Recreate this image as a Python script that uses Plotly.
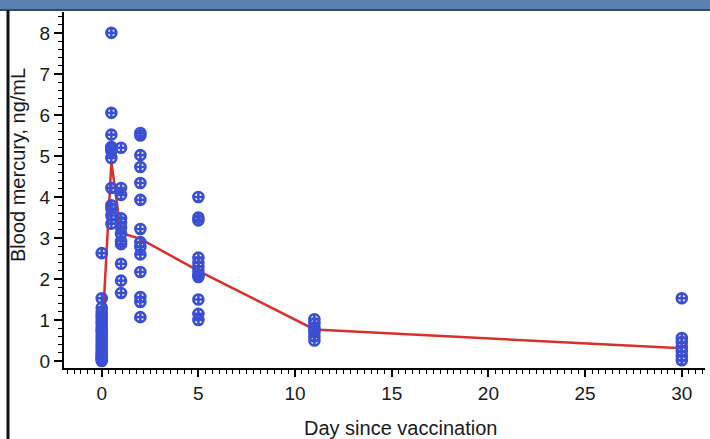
import plotly.graph_objects as go

# ---- data ----
day0 = [2.63, 1.53, 1.3, 1.2, 1.12, 1.05, 0.97, 0.9, 0.82, 0.75, 0.7, 0.62, 0.55,
        0.48, 0.42, 0.36, 0.3, 0.25, 0.2, 0.15, 0.1, 0.06, 0.03, 0.0]
day_half = [8.0, 6.05, 5.52, 5.22, 5.18, 5.12, 4.95, 4.22, 3.8, 3.72, 3.55, 3.35]
day1 = [5.2, 4.22, 4.05, 3.48, 3.38, 3.25, 3.1, 2.92, 2.85, 2.37, 1.96, 1.66]
day2 = [5.56, 5.5, 5.02, 4.73, 4.34, 3.93, 3.22, 2.9, 2.78, 2.6, 2.17, 1.56, 1.44, 1.07]
day5 = [4.0, 3.5, 3.43, 2.52, 2.4, 2.3, 2.2, 2.1, 2.05, 1.5, 1.15, 1.0]
day11 = [1.02, 0.92, 0.82, 0.76, 0.7, 0.6, 0.5]
day30 = [1.53, 0.56, 0.46, 0.34, 0.24, 0.12, 0.02]

groups = [(0, day0), (0.5, day_half), (1, day1), (2, day2), (5, day5), (11, day11), (30, day30)]

mean_days = [0, 0.5, 1, 2, 5, 11, 30]
mean_values = [0.45, 4.85, 3.12, 2.98, 2.2, 0.77, 0.31]

x_ticks = [0, 5, 10, 15, 20, 25, 30]
y_ticks = [0, 1, 2, 3, 4, 5, 6, 7, 8]

xs, ys = [], []
for d, vals in groups:
    xs += [d] * len(vals)
    ys += vals

FONT = "Liberation Sans, Arial, sans-serif"

fig = go.Figure()
fig.add_trace(go.Scatter(x=mean_days, y=mean_values, mode="lines",
                         line=dict(color="#d9302c", width=2.5), hoverinfo="skip"))
fig.add_trace(go.Scatter(x=xs, y=ys, mode="markers",
                         marker=dict(symbol="circle-cross-open", size=10, color="#3b4fd4",
                                     line=dict(width=2.6, color="#3b4fd4"))))

axis_common = dict(showgrid=False, zeroline=False, showline=True, linecolor="black",
                   linewidth=2, ticks="outside", tickcolor="black", tickwidth=1.5,
                   tickfont=dict(family=FONT, size=19, color="#1a1a1a"))

fig.update_xaxes(range=[-1.95, 31.2], tickmode="array", tickvals=x_ticks, ticklen=7,
                 minor=dict(dtick=5/14, tick0=0, ticks="outside", ticklen=4,
                            tickcolor="black", tickwidth=1.2),
                 **axis_common)
fig.update_yaxes(range=[-0.17, 8.51], tickmode="array", tickvals=y_ticks, ticklen=8,
                 minor=dict(dtick=0.2, tick0=0, ticks="outside", ticklen=4,
                            tickcolor="black", tickwidth=1.2),
                 **axis_common)

# plot area: x 64..705, y 12..368 (pixels)
fig.update_layout(
    width=710, height=439,
    margin=dict(l=64, r=5, t=12, b=71),
    paper_bgcolor="white", plot_bgcolor="white",
    showlegend=False,
    annotations=[
        dict(text="Day since vaccination", xref="paper", yref="paper",
             x=(400 - 64) / 641, y=(368 - 428) / 356, xanchor="center", yanchor="middle",
             showarrow=False, font=dict(family=FONT, size=20, color="#1a1a1a")),
        dict(text="Blood mercury, ng/mL", xref="paper", yref="paper",
             x=(18 - 64) / 641, y=(368 - 165) / 356, xanchor="center", yanchor="middle",
             textangle=-90, showarrow=False, font=dict(family=FONT, size=20, color="#1a1a1a")),
    ],
    shapes=[
        # top banner
        dict(type="rect", xref="paper", yref="paper",
             x0=-0.11, x1=1.01, y0=(368 - 10) / 356, y1=(368 + 2) / 356,
             fillcolor="#5b7fad", line=dict(width=0), layer="above"),
        dict(type="line", xref="paper", yref="paper",
             x0=-0.11, x1=1.01, y0=(368 - 10) / 356, y1=(368 - 10) / 356,
             line=dict(color="#34496b", width=2), layer="above"),
        # left dark border
        dict(type="line", xref="paper", yref="paper",
             x0=(8 - 64) / 641, x1=(8 - 64) / 641, y0=(368 - 440) / 356, y1=(368 - 10) / 356,
             line=dict(color="#111111", width=3), layer="above"),
    ],
)

fig.write_html("out.html")
